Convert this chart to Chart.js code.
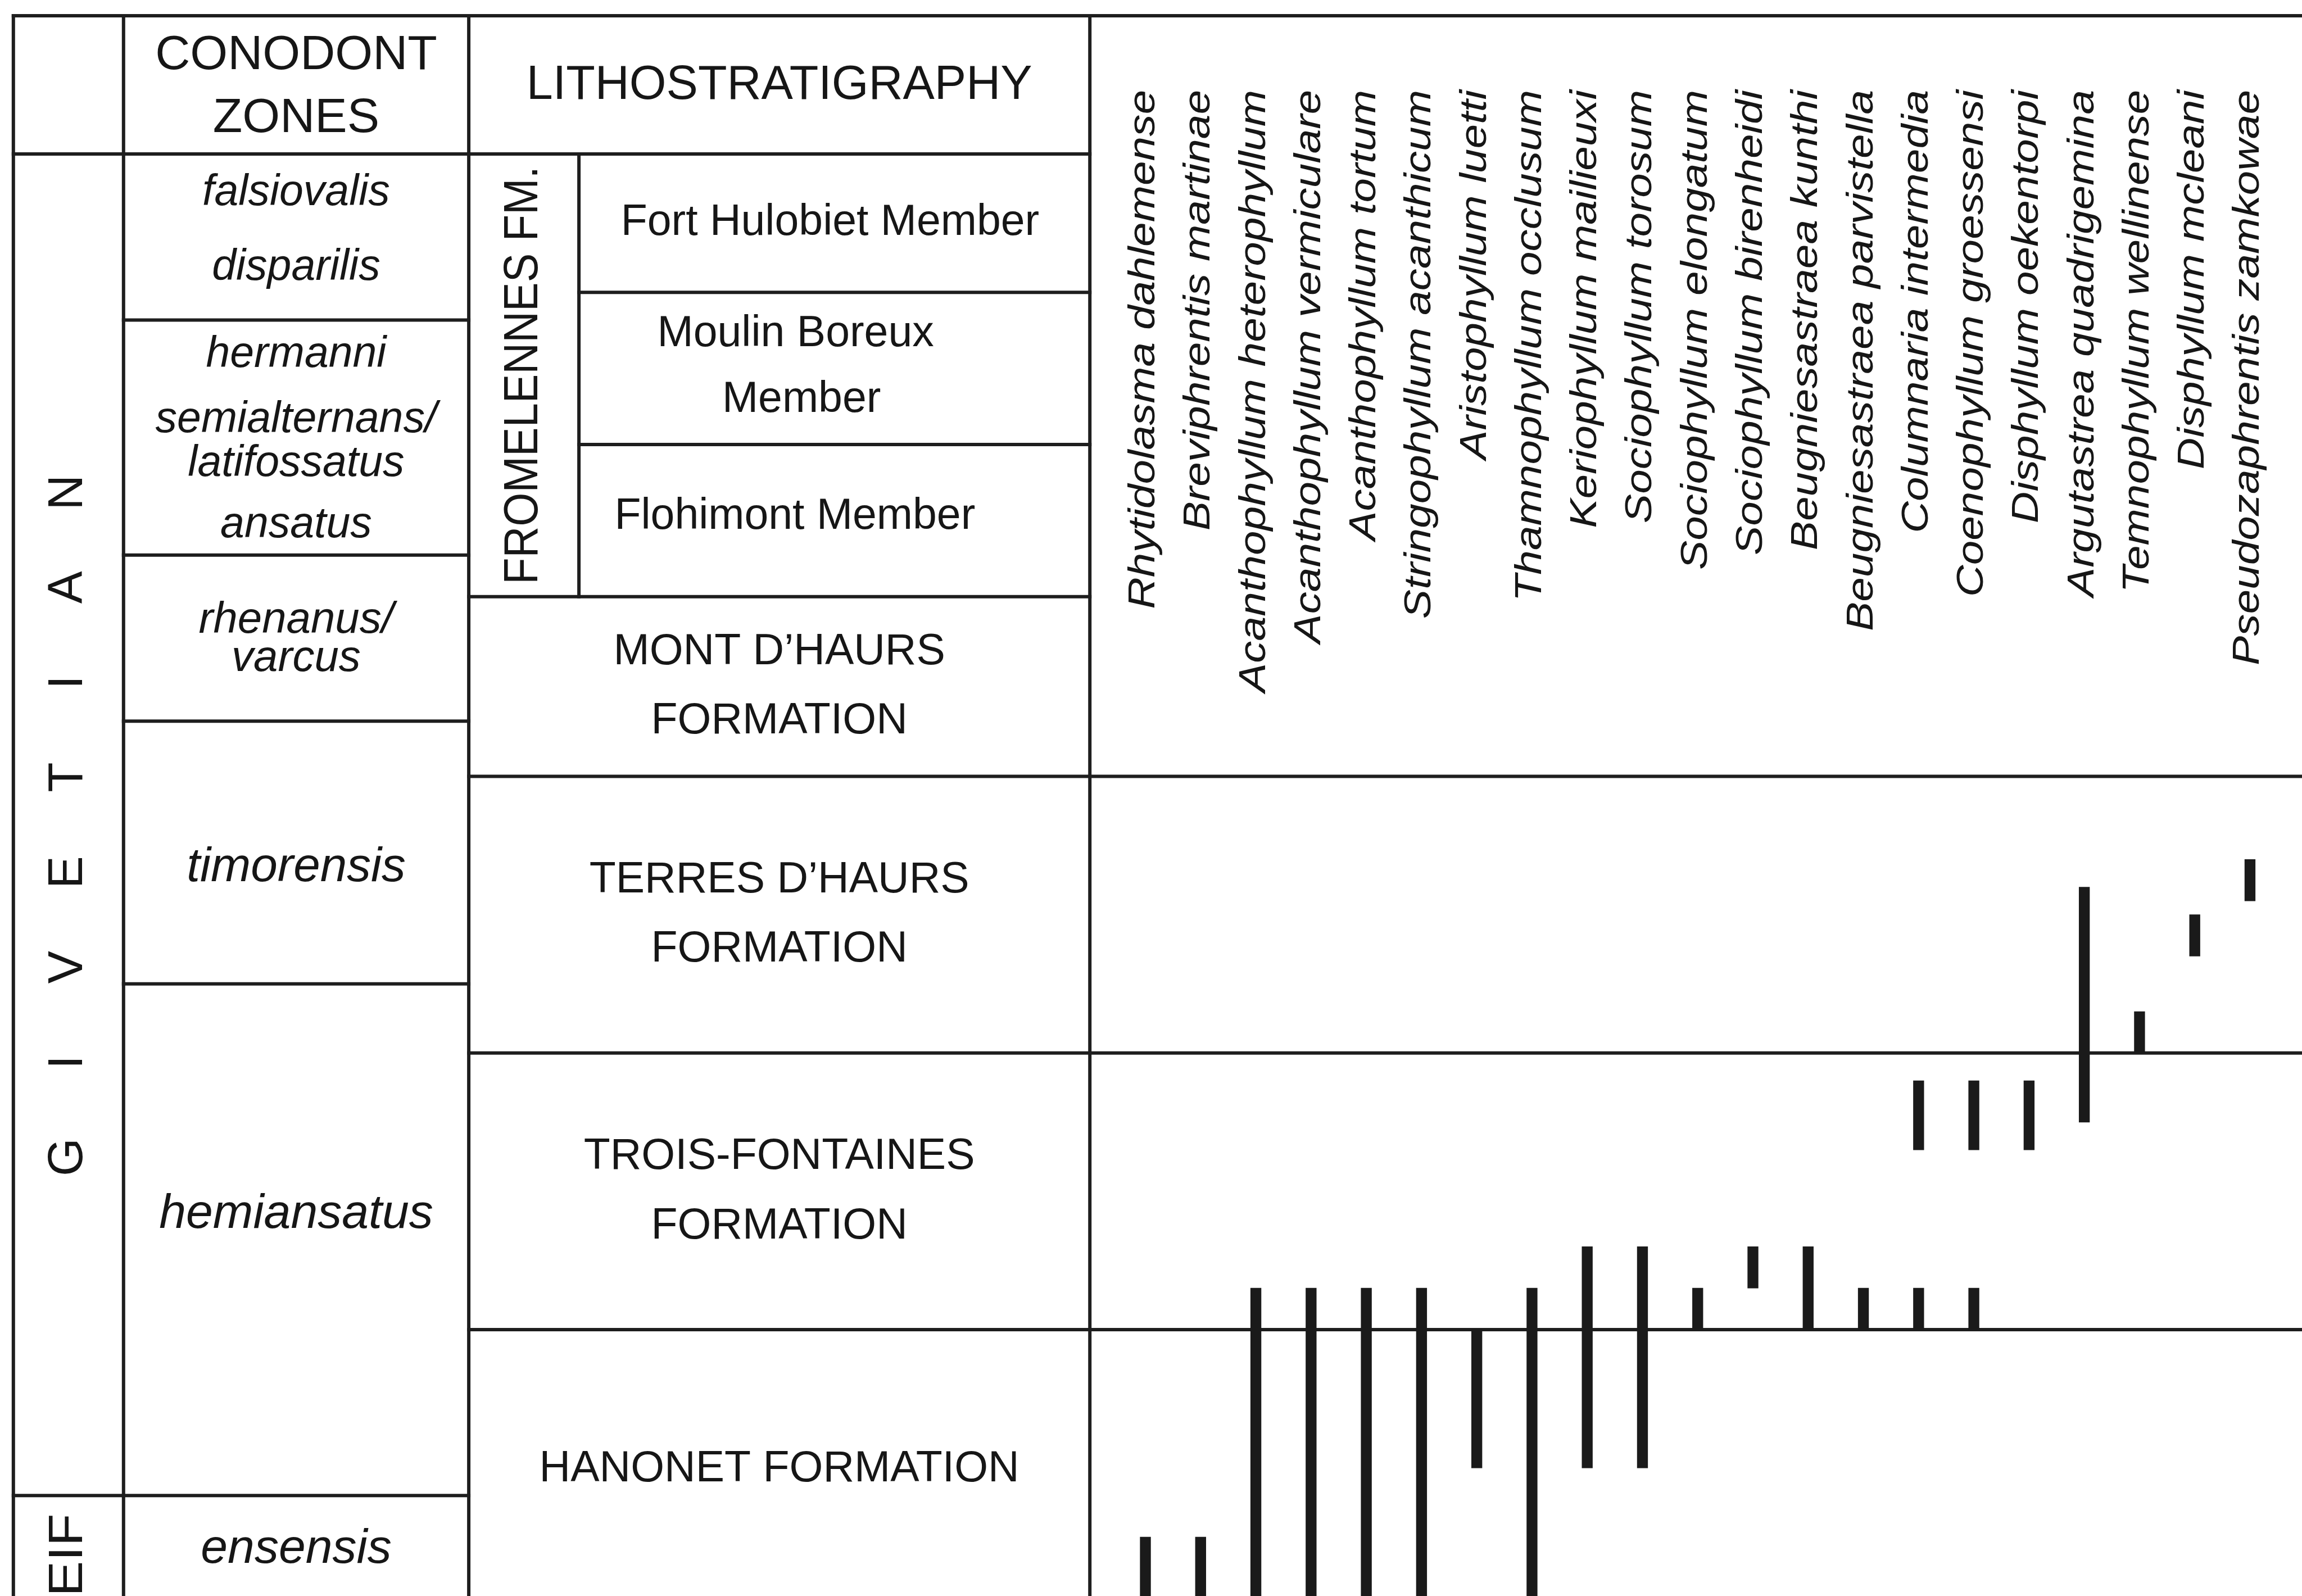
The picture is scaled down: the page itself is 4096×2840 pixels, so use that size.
<!DOCTYPE html>
<html>
<head>
<meta charset="utf-8">
<title>Givetian coral ranges</title>
<script src="https://cdn.jsdelivr.net/npm/chart.js@4.4.1/dist/chart.umd.min.js"></script>
<style>
	html, body { margin: 0; padding: 0; background: #fff; }
	#wrapper-strat { width: 4096px; height: 2840px; position: relative; }
</style>
</head>
<body>
<div id="wrapper-strat"><canvas id="strat-chart"></canvas></div>
<script>
// Species (x categories), left to right
const species = [
	"Rhytidolasma dahlemense",
	"Breviphrentis martinae",
	"Acanthophyllum heterophyllum",
	"Acanthophyllum vermiculare",
	"Acanthophyllum tortum",
	"Stringophyllum acanthicum",
	"Aristophyllum luetti",
	"Thamnophyllum occlusum",
	"Keriophyllum mailieuxi",
	"Sociophyllum torosum",
	"Sociophyllum elongatum",
	"Sociophyllum birenheidi",
	"Beugniesastraea kunthi",
	"Beugniesastraea parvistella",
	"Columnaria intermedia",
	"Coenophyllum groessensi",
	"Disphyllum oekentorpi",
	"Argutastrea quadrigemina",
	"Temnophyllum wellinense",
	"Disphyllum mcleani",
	"Pseudozaphrentis zamkowae",
];

// Stratigraphic level: 10 units = one formation (Hanonet 0-10, Trois-Fontaines 10-20, Terres d'Haurs 20-30)
const rangeBase = [0, 0, 0, 0, 0, 0, 5, 0, 5, 5, 10, 11.5, 10, 10, 10, 10, 16.5, 17.5, 20, 23.5, 25.5];
const rangeTop = [2.5, 2.5, 11.5, 11.5, 11.5, 11.5, 10, 11.5, 13, 13, 11.5, 13, 13, 11.5, 11.5, 11.5, 19, 26, 21.5, 25, 27];

// second occurrence (Columnaria, Coenophyllum)
const reappearBase = [null, null, null, null, null, null, null, null, null, null, null, null, null, null, 16.5, 16.5, null, null, null, null, null];
const reappearTop = [null, null, null, null, null, null, null, null, null, null, null, null, null, null, 19, 19, null, null, null, null, null];

const headerTitles = [["CONODONT", "ZONES"], ["LITHOSTRATIGRAPHY"]];
const headerTop = 57.5;
const headerBase = 52.5;

const stages = ["GIVETIAN", "EIF"];
const stageTop = [52.5, 4];
const stageBase = [4, -0.3];

const zones = [
	["falsiovalis", "disparilis"],
	["hermanni", "semialternans/", "latifossatus", "ansatus"],
	["rhenanus/", "varcus"],
	["timorensis"],
	["hemiansatus"],
	["ensensis"],
];
const zoneTop = [52.5, 46.5, 38, 32, 22.5, 4];
const zoneBase = [46.5, 38, 32, 22.5, 4, -0.3];

const groupName = "FROMELENNES FM.";
const groupTop = 52.5;
const groupBase = 36.5;

const members = [["Fort Hulobiet Member"], ["Moulin Boreux", "Member"], ["Flohimont Member"]];
const memberTop = [52.5, 47.5, 42];
const memberBase = [47.5, 42, 36.5];

const formations = [
	["MONT D\u2019HAURS", "FORMATION"],
	["TERRES D\u2019HAURS", "FORMATION"],
	["TROIS-FONTAINES", "FORMATION"],
	["HANONET FORMATION"],
];
const formationTop = [36.5, 30, 20, 10];
const formationBase = [30, 20, 10, 0];

// ---- layout (px) ----
const FONT = '"Liberation Sans", Arial, Helvetica, sans-serif';
const INK = "#161616";
const LINE = "#1e1e1e";
const LW = 6;
const COL_LEFT = 23.8;
const COL_STAGE = 219.8;
const COL_ZONE = 834.1;
const COL_FM = 1030.1;
const COL_LITH = 1939.2;
const PANEL_BASE = 30; // species-name panel ends at top of Terres d'Haurs

const zoneFont = [77, 77, 78, 85.5, 86, 86];
const zoneDy = [[-77.7, 54.6], [-147, -31.1, 47.4, 156.2], [-30.9, 36.6], [26.8], [-45.3], [-9.7]];
const memberDx = [[-7.7], [-69, -58.5], [-70.3]];
const memberDy = [[0], [-60.8, 55.8], [-6.9]];

function hline(ctx, x1, x2, y) {
	ctx.beginPath();
	ctx.moveTo(x1, y);
	ctx.lineTo(x2, y);
	ctx.stroke();
}

function vline(ctx, x, y1, y2) {
	ctx.beginPath();
	ctx.moveTo(x, y1);
	ctx.lineTo(x, y2);
	ctx.stroke();
}

function label(ctx, str, x, y, size, style) {
	ctx.font = (style || "") + " " + size + "px " + FONT;
	ctx.fillText(str, x, y);
}

function vlabel(ctx, str, x, y, size, style, align, stretch) {
	ctx.save();
	ctx.translate(x, y);
	ctx.rotate(-Math.PI / 2);
	ctx.scale(stretch || 1, 1);
	ctx.font = (style || "") + " " + size + "px " + FONT;
	ctx.textAlign = align;
	ctx.fillText(str, 0, 0);
	ctx.restore();
}

const stratTable = {
	id: "stratTable",
	beforeDatasetsDraw(chart) {
		const ctx = chart.ctx;
		const y = (v) => chart.scales.y.getPixelForValue(v);
		const W = chart.width;
		const H = chart.height;

		ctx.save();
		ctx.strokeStyle = LINE;
		ctx.lineWidth = LW;
		ctx.lineCap = "square";

		// frame and columns
		hline(ctx, COL_LEFT, W, y(headerTop));
		vline(ctx, COL_LEFT, y(headerTop), H + 10);
		vline(ctx, COL_STAGE, y(headerTop), H + 10);
		vline(ctx, COL_ZONE, y(headerTop), H + 10);
		vline(ctx, COL_LITH, y(headerTop), H + 10);
		vline(ctx, COL_FM, y(groupTop), y(groupBase));
		hline(ctx, COL_LEFT, COL_LITH, y(headerBase));

		stageTop.forEach((t) => {
			if (t < headerBase) hline(ctx, COL_LEFT, COL_STAGE, y(t));
		});
		zoneTop.forEach((t) => {
			if (t < headerBase) hline(ctx, COL_STAGE, COL_ZONE, y(t));
		});
		memberTop.forEach((t) => {
			if (t < headerBase) hline(ctx, COL_FM, COL_LITH, y(t));
		});
		formationTop.forEach((t) => {
			hline(ctx, COL_ZONE, t <= PANEL_BASE ? W + 10 : COL_LITH, y(t));
		});
		ctx.restore();
	},
	afterDatasetsDraw(chart) {
		const ctx = chart.ctx;
		const y = (v) => chart.scales.y.getPixelForValue(v);
		const xs = chart.scales.x;
		const mid = (a, b) => (y(a) + y(b)) / 2;

		ctx.save();
		ctx.fillStyle = INK;
		ctx.textBaseline = "middle";
		ctx.textAlign = "center";

		// header
		const hy = mid(headerTop, headerBase);
		const hx1 = (COL_STAGE + COL_ZONE) / 2;
		label(ctx, headerTitles[0][0], hx1, hy - 52, 86);
		label(ctx, headerTitles[0][1], hx1, hy + 60, 86);
		label(ctx, headerTitles[1][0], (COL_ZONE + COL_LITH) / 2, hy + 2, 84.5);

		// stages
		const sx = (COL_LEFT + COL_STAGE) / 2;
		const gy = mid(stageTop[0], stageBase[0]);
		const letters = stages[0].split("");
		letters.forEach((ch, i) => {
			const off = (i - (letters.length - 1) / 2) * 169;
			vlabel(ctx, ch, sx, gy - off, 87, "", "center", 1);
		});
		vlabel(ctx, stages[1], sx, mid(stageTop[1], stageBase[1]), 86, "", "center", 1.1);

		// conodont zones
		const zx = (COL_STAGE + COL_ZONE) / 2;
		zones.forEach((lines, i) => {
			const cy = mid(zoneTop[i], zoneBase[i]);
			lines.forEach((s, j) => {
				label(ctx, s, zx, cy + zoneDy[i][j], zoneFont[i], "italic");
			});
		});

		// Fromelennes Fm. and its members
		vlabel(ctx, groupName, (COL_ZONE + COL_FM) / 2, mid(groupTop, groupBase), 86, "", "center", 0.9);
		const mx = (COL_FM + COL_LITH) / 2;
		members.forEach((lines, i) => {
			const cy = mid(memberTop[i], memberBase[i]);
			lines.forEach((s, j) => {
				label(ctx, s, mx + memberDx[i][j], cy + memberDy[i][j], 77);
			});
		});

		// formations
		const fx = (COL_ZONE + COL_LITH) / 2;
		formations.forEach((lines, i) => {
			const cy = mid(formationTop[i], formationBase[i]);
			if (lines.length === 2) {
				label(ctx, lines[0], fx, cy - 61, 77);
				label(ctx, lines[1], fx, cy + 62.5, 77);
			} else {
				label(ctx, lines[0], fx, cy + 2.8, 77);
			}
		});

		// species names, read bottom-to-top, hanging from the top
		ctx.textBaseline = "alphabetic";
		const labelTop = y(headerTop) + 132;
		species.forEach((s, i) => {
			vlabel(ctx, s, xs.getPixelForValue(i) + 16, labelTop, 67, "italic", "right", 1.17);
		});

		ctx.restore();
	},
};

const firstRange = species.map((s, i) => [rangeBase[i], rangeTop[i]]);
const secondRange = species.map((s, i) =>
	reappearBase[i] === null ? null : [reappearBase[i], reappearTop[i]]
);

const ctx = document.getElementById("strat-chart").getContext("2d");

new Chart(ctx, {
	type: "bar",
	data: {
		labels: species,
		datasets: [
			{
				label: "Range",
				data: firstRange,
				backgroundColor: "#1a1a1a",
				borderWidth: 0,
				barThickness: 18.7,
				grouped: false,
			},
			{
				label: "Second occurrence",
				data: secondRange,
				backgroundColor: "#1a1a1a",
				borderWidth: 0,
				barThickness: 18.7,
				grouped: false,
			},
		],
	},
	options: {
		responsive: true,
		maintainAspectRatio: false,
		animation: false,
		devicePixelRatio: 1,
		layout: {
			padding: { left: 1988.9, right: 43.4, top: 28, bottom: 0 },
		},
		scales: {
			x: {
				display: false,
				offset: true,
				grid: { display: false },
			},
			y: {
				display: false,
				min: 0.37,
				max: 57.5,
				grid: { display: false },
			},
		},
		plugins: {
			legend: { display: false },
			title: { display: false },
			tooltip: { enabled: false },
		},
	},
	plugins: [stratTable],
});
</script>
</body>
</html>
